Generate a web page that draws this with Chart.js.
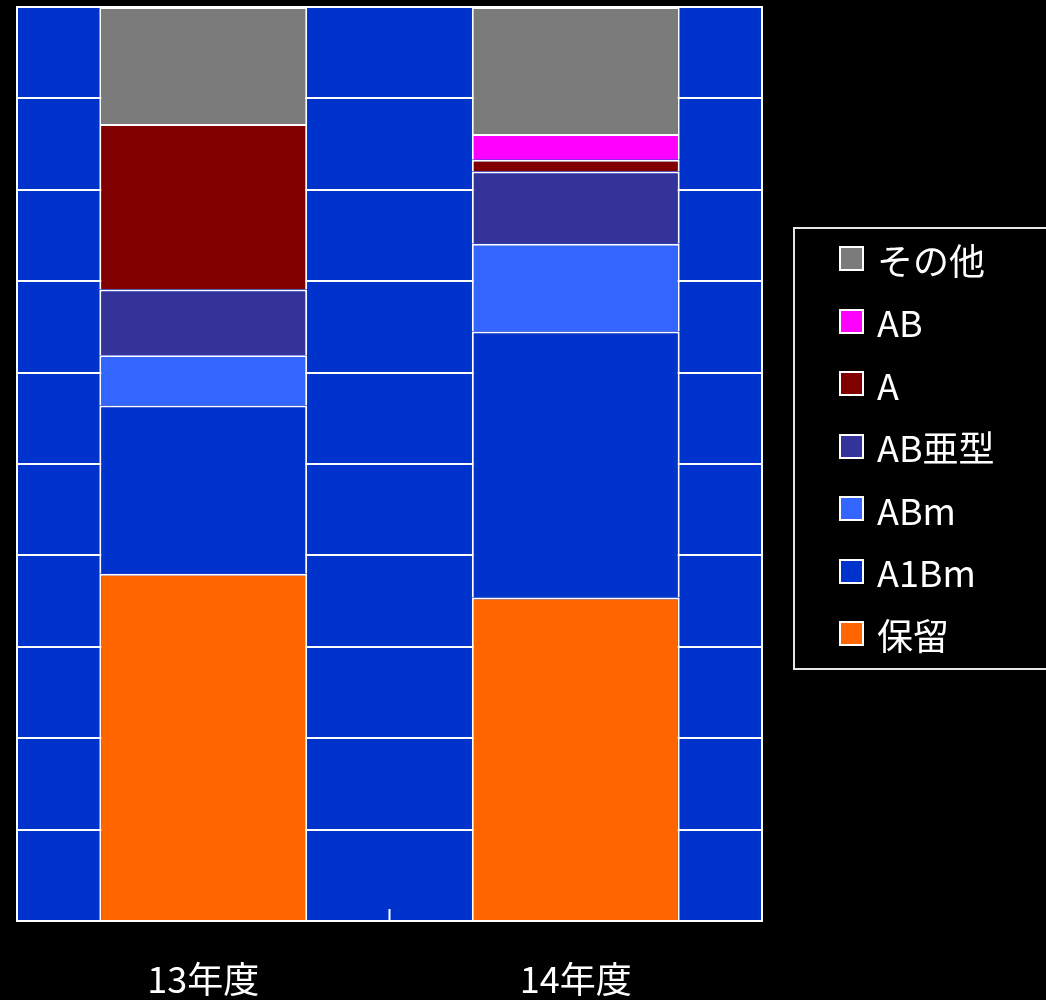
<!DOCTYPE html>
<html>
<head>
<meta charset="utf-8">
<script src="https://cdn.jsdelivr.net/npm/chart.js@4/dist/chart.umd.min.js"></script>
<style>
  body { margin: 0; background: #000; overflow: hidden; font-family: "Noto Sans CJK JP", "Noto Sans", sans-serif; }
  #wrap { position: relative; width: 1046px; height: 1000px; }
  #legend {
    position: absolute; left: 793px; top: 227px; width: 280px; height: 443px;
    box-sizing: border-box; border: 2px solid #e6e6e6; color: #fff;
  }
  #legend .item { position: absolute; left: 44px; height: 40px; display: flex; align-items: center; font-size: 36px; }
  #legend .sw { width: 21px; height: 21px; border: 2px solid #fff; margin-right: 13px; }
</style>
</head>
<body>
<div id="wrap">
  <canvas id="chart"></canvas>
  <div id="legend"></div>
</div>
<script>
const categories = ['13年度', '14年度'];

// percentages per year, bottom of the stack first
const holdVals = [38.0, 35.4];
const a1bmVals = [18.4, 29.1];
const abmVals = [5.5, 9.6];
const abSubVals = [7.2, 7.9];
const aVals = [18.1, 1.3];
const abVals = [null, 2.8];
const otherVals = [12.8, 13.9];

const seriesLabels = ['保留', 'A1Bm', 'ABm', 'AB亜型', 'A', 'AB', 'その他'];
const seriesColors = ['#ff6600', '#0033cc', '#3366ff', '#333399', '#800000', '#ff00ff', '#7b7b7b'];
const seriesData = [holdVals, a1bmVals, abmVals, abSubVals, aVals, abVals, otherVals];

const plotBg = '#0033cc';

// blue plot area, white frame and the small tick between the years
const plotFrame = {
  id: 'plotFrame',
  beforeDraw(chart) {
    const { ctx, chartArea: a } = chart;
    ctx.save();
    ctx.fillStyle = plotBg;
    ctx.fillRect(a.left, a.top, a.right - a.left, a.bottom - a.top);
    ctx.restore();
  },
  afterDatasetsDraw(chart) {
    const { ctx, chartArea: a, scales } = chart;
    ctx.save();
    ctx.strokeStyle = '#fff';
    ctx.lineWidth = 2;
    ctx.strokeRect(a.left, a.top, a.right - a.left, a.bottom - a.top);
    const x = scales.x;
    for (let i = 0; i < categories.length - 1; i++) {
      const px = (x.getPixelForValue(i) + x.getPixelForValue(i + 1)) / 2;
      ctx.beginPath();
      ctx.moveTo(px, a.bottom);
      ctx.lineTo(px, a.bottom - 12);
      ctx.stroke();
    }
    ctx.restore();
  }
};

const datasets = seriesLabels.map((label, i) => ({
  label,
  data: seriesData[i],
  backgroundColor: seriesColors[i],
  borderColor: '#fff',
  borderWidth: 2,
  categoryPercentage: 1,
  barPercentage: 0.558,
}));

new Chart(document.getElementById('chart').getContext('2d'), {
  type: 'bar',
  data: { labels: categories, datasets },
  options: {
    responsive: true,
    maintainAspectRatio: false,
    animation: false,
    layout: { padding: { left: 17, top: 7, right: 284, bottom: 0 } },
    plugins: { legend: { display: false }, tooltip: { enabled: false } },
    scales: {
      x: {
        stacked: true,
        grid: { display: false },
        border: { display: false },
        afterFit(scale) { scale.height = 79; },
        ticks: {
          color: '#fff',
          padding: 29,
          font: { size: 36, family: '"Noto Sans CJK JP", "Noto Sans", sans-serif' }
        }
      },
      y: {
        stacked: true,
        min: 0,
        max: 100,
        ticks: { display: false, stepSize: 10 },
        grid: { color: '#fff', lineWidth: 2, drawTicks: false },
        border: { display: false }
      }
    }
  },
  plugins: [plotFrame]
});

// legend, top of the stack first
const legend = document.getElementById('legend');
for (let i = seriesLabels.length - 1, row = 0; i >= 0; i--, row++) {
  const item = document.createElement('div');
  item.className = 'item';
  item.style.top = (9.5 + row * 62.5) + 'px';
  const sw = document.createElement('span');
  sw.className = 'sw';
  sw.style.background = seriesColors[i];
  const txt = document.createElement('span');
  txt.textContent = seriesLabels[i];
  item.appendChild(sw);
  item.appendChild(txt);
  legend.appendChild(item);
}
</script>
</body>
</html>
